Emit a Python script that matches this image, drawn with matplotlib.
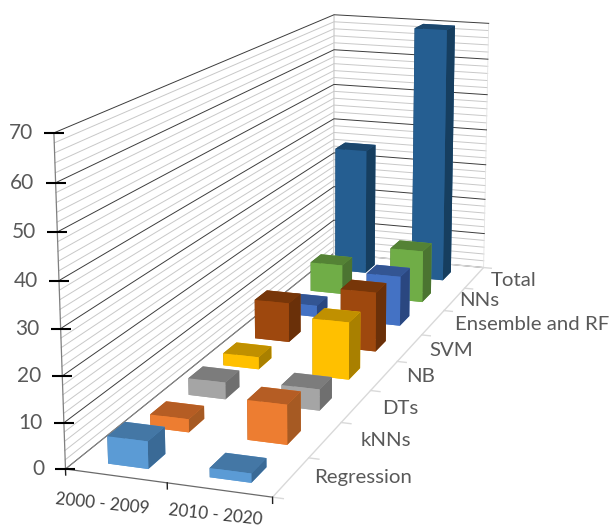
import numpy as np
import matplotlib
matplotlib.use("Agg")
import matplotlib.pyplot as plt

periods = ["2000 - 2009", "2010 - 2020"]
methods = ["Regression", "kNNs", "DTs", "NB", "SVM", "Ensemble and RF", "NNs", "Total"]
values_2000s = [6, 3, 4, 3, 10, 3, 8, 35]
values_2010s = [2, 9, 5, 14, 15, 13, 14, 70]
front_colors = ["#5B9BD5", "#ED7D31", "#A5A5A5", "#FFC000", "#9E480E", "#4472C4", "#70AD47", "#255E91"]
top_colors = ["#4477A5", "#B55D24", "#7C7C7C", "#C09000", "#773609", "#335593", "#548235", "#1C476D"]
side_colors = ["#3A6A96", "#A65A23", "#6F6F6F", "#A98000", "#6A3009", "#2A4780", "#4B7431", "#163E5F"]
z_ticks = [0, 10, 20, 30, 40, 50, 60, 70]
z_minor = list(range(0, 71, 2))

W, H = 610, 529
plt.rcParams["font.family"] = ["Lato", "DejaVu Sans"]
fig = plt.figure(figsize=(W / 100, H / 100), dpi=100)
ax = fig.add_axes([0, 0, 1, 1], projection="3d", computed_zorder=False)
ax.set_axis_off()

# Camera: solved from where the chart box corners fall on the canvas
box = np.array([[0, 0, 0], [2, 0, 0], [0, 0, 70], [0, 8, 70], [2, 8, 70], [2, 8, 0], [0, 8, 0]], float)
canvas = np.array([[64, 469], [273, 497], [55, 133], [332, 15], [490, 23], [482, 268], [336, 253]], float)
rows = []
for (x, y, z), (u, v) in zip(box, canvas):
    rows.append([x, y, z, 1, 0, 0, 0, 0, -u * x, -u * y, -u * z, -u])
    rows.append([0, 0, 0, 0, x, y, z, 1, -v * x, -v * y, -v * z, -v])
cam = np.linalg.svd(np.array(rows))[2][-1].reshape(3, 4)
if cam[2, 3] < 0:
    cam = -cam
cam = cam / cam[2, 3]


def to_canvas(p):
    h = cam @ np.array([*p, 1.0])
    return h[:2] / h[2]


def camera_matrix():
    # Express canvas pixels in the 2D coordinates behind ax.transData
    a, b = ax.transData.transform([[0, 0], [1, 1]])
    sx, sy = b - a
    return np.array([
        (cam[0] - a[0] * cam[2]) / sx,
        ((H * cam[2] - cam[1]) - a[1] * cam[2]) / sy,
        [0, 0, 0, -1],
        cam[2],
    ])


ax.get_proj = camera_matrix

# Wall gridlines
for z in z_minor:
    major = z in z_ticks
    c, lw = ("#3c3c3c", 0.7) if major else ("#c8c8c8", 0.7)
    ax.plot([0, 0, 2], [0, 8, 8], [z, z, z], color=c, lw=lw, zorder=2 if major else 1)
ax.plot([0, 0], [8, 8], [0, 70], color="#c8c8c8", lw=0.8, zorder=1)
ax.plot([2, 2], [8, 8], [0, 70], color="#e4e4e4", lw=0.6, zorder=1)
ax.plot([0, 0], [0, 0], [0, 70], color="#7f7f7f", lw=0.9, zorder=2)

# Floor edges and ticks
ax.plot([0, 2], [0, 0], [0, 0], color="#6a6a6a", lw=0.9, zorder=2)
ax.plot([0, 0], [0, 8], [0, 0], color="#8a8a8a", lw=0.7, zorder=2)
ax.plot([2, 2, 0], [0, 8, 8], [0, 0, 0], color="#d9d9d9", lw=1.0, zorder=2)
for y in range(9):
    ax.plot([2, 2.1], [y, y], [0, 0], color="#d9d9d9", lw=1.0, zorder=2)
for x in range(3):
    ax.plot([x, x], [0, 0], [-1.3, 0], color="#202020", lw=1.0, zorder=2)
ax.plot([0] * len(z_ticks), [0] * len(z_ticks), z_ticks, ls="none", marker="_",
        ms=15, mew=1.5, color="black", zorder=3)

# Bars, farthest first so nearer ones paint over them
bars = []
for r in range(len(methods)):
    for c, v in enumerate((values_2000s[r], values_2010s[r])):
        bars.append((c, r, v))
bars.sort(key=lambda b: -(cam[2] @ np.array([b[0] + 0.5, b[1] + 0.4, 0, 1])))
for i, (c, r, v) in enumerate(bars):
    faces = [front_colors[r], top_colors[r], front_colors[r],
             front_colors[r], side_colors[r], side_colors[r]]
    ax.bar3d(c + 0.31 - 0.007 * r, r + 0.25, 0, 0.40, 0.40, v, color=faces, shade=False,
             zorder=10 + i, linewidth=0)

# Text
for z in z_ticks:
    u, v = to_canvas((0, 0, z))
    fig.text((u - 21) / W, 1 - v / H, str(z), ha="right", va="center",
             fontsize=15, color="#595959")
period_pos = [(102, 504), (215, 515)]
for name, (u, v) in zip(periods, period_pos):
    fig.text(u / W, 1 - v / H, name, ha="center", va="center", rotation=-6,
             rotation_mode="anchor", fontsize=12.3, color="#404040")
method_pos = [(363, 478), (386, 441), (400, 408), (421, 377), (451, 350), (532, 324), (479, 301), (514, 280)]
for name, (u, v) in zip(methods, method_pos):
    fig.text(u / W, 1 - v / H, name, ha="center", va="center",
             fontsize=14.7, color="#595959")

fig.savefig("out.png", dpi=100, facecolor="white")
